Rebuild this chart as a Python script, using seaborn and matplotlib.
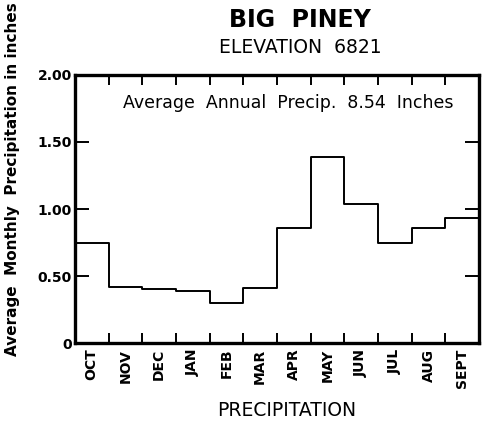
import matplotlib
matplotlib.use("Agg")
import matplotlib.pyplot as plt
import numpy as np
import seaborn as sns

sns.set_theme(style="white")
plt.rcParams['font.family'] = ['DejaVu Sans']
plt.rcParams.update({"text.color": "black", "axes.labelcolor": "black",
                     "xtick.color": "black", "ytick.color": "black"})

# --- DATA ---
MONTHS = ["OCT", "NOV", "DEC", "JAN", "FEB", "MAR",
          "APR", "MAY", "JUN", "JUL", "AUG", "SEPT"]
PRECIP = [0.75, 0.42, 0.40, 0.39, 0.30, 0.41,
          0.86, 1.39, 1.04, 0.75, 0.86, 0.93]
Y_TICKS = [0, 0.5, 1.0, 1.5, 2.0]
Y_TICK_LABELS = ["0", "0.50", "1.00", "1.50", "2.00"]

TITLE = "BIG  PINEY"
SUBTITLE = "ELEVATION  6821"
NOTE = "Average  Annual  Precip.  8.54  Inches"

# --- FIGURE ---
fig = plt.figure(figsize=(4.83, 4.21), dpi=100)
ax = fig.add_axes([0.155, 0.185, 0.837, 0.637])

# step line: each month is a flat segment from its start to the next month
x_edges = np.arange(len(MONTHS) + 1)
y_edges = PRECIP + [PRECIP[-1]]
sns.lineplot(x=x_edges, y=y_edges, drawstyle="steps-post", color="black",
             linewidth=1.4, ax=ax)

ax.set_xlim(0, len(MONTHS))
ax.set_ylim(0, 2.0)

# month labels centred in each month, ticks on the month boundaries
ax.set_xticks(np.arange(1, len(MONTHS)))
ax.set_xticklabels([])
ax.set_xticks(np.arange(len(MONTHS)) + 0.5, minor=True)
ax.set_xticklabels(MONTHS, minor=True, rotation=90, fontsize=10,
                   fontweight="bold")
ax.tick_params(axis="x", which="minor", length=0, pad=4)
ax.tick_params(axis="x", which="major", direction="in", length=7, width=1.4,
               top=True, bottom=True, color="black")

ax.set_yticks(Y_TICKS)
ax.set_yticklabels(Y_TICK_LABELS, fontsize=10, fontweight="bold")
ax.tick_params(axis="y", direction="in", length=10, width=1.4, left=True,
               right=True, color="black", pad=2)

for side in ["left", "right", "top", "bottom"]:
    ax.spines[side].set_visible(True)
    ax.spines[side].set_color("black")
    ax.spines[side].set_linewidth(2.4)

ax.set_xlabel("PRECIPITATION", fontsize=13.5)
ax.xaxis.set_label_coords(0.525, -0.215)
ax.set_ylabel("Average  Monthly  Precipitation in inches", fontsize=11,
              fontweight="bold")
ax.yaxis.set_label_coords(-0.135, 0.61)

ax.text(0.527, 0.895, NOTE, transform=ax.transAxes, ha="center",
        va="center", fontsize=12.5)

fig.text(0.622, 0.952, TITLE, ha="center", va="center", fontsize=17,
         fontweight="bold")
fig.text(0.622, 0.888, SUBTITLE, ha="center", va="center", fontsize=13.5)

fig.savefig("out.png", dpi=100, facecolor="white")
